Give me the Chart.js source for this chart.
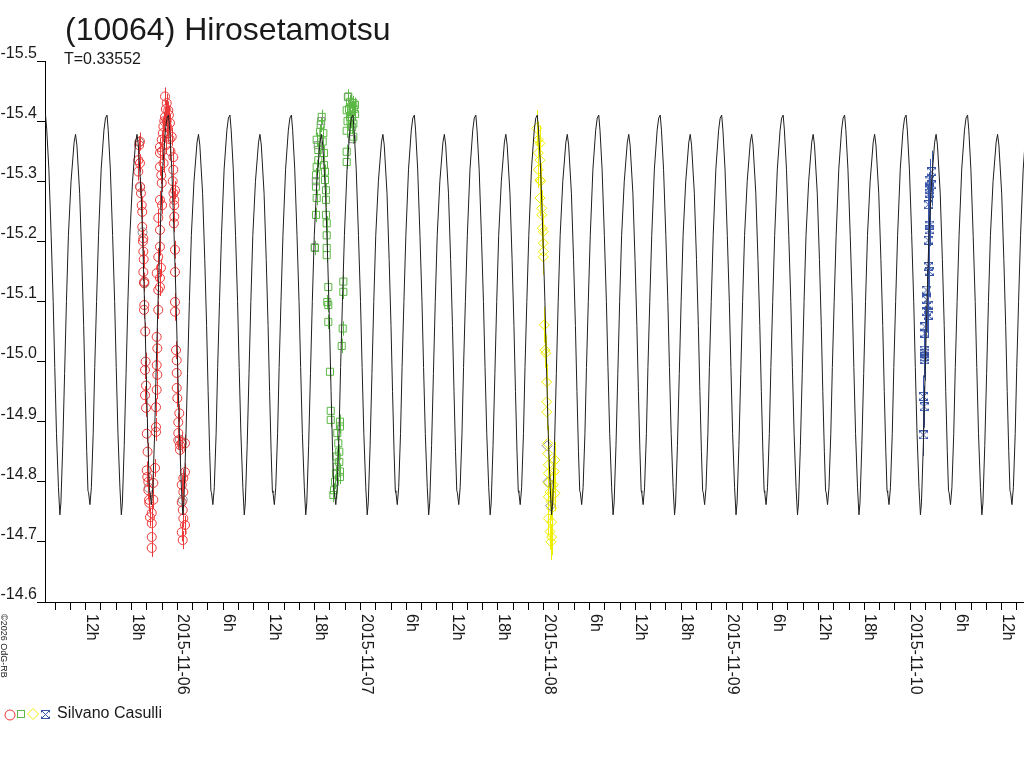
<!DOCTYPE html>
<html><head><meta charset="utf-8">
<script src="https://cdn.jsdelivr.net/npm/chart.js@4/dist/chart.umd.min.js"></script>
<style>html,body{margin:0;padding:0;background:#fff;}canvas{display:block;}</style>
</head><body>
<canvas id="c" width="1024" height="768"></canvas>
<script>
// ---------- texts ----------
const titleText = '(10064) Hirosetamotsu';
const periodText = 'T=0.33552';
const observerText = 'Silvano Casulli';
const copyrightText = '\u00A92026 OdG-RB';

// ---------- model light curve (one rotation period) ----------
const periodDays = 0.33552;
const epochHours = 38.95;          // main maximum, hours since 2015-11-05 00:00 UT
const curvePhase = [0.000,0.020,0.054,0.091,0.124,0.150,0.178,0.210,0.233,0.250,0.280,0.310,0.340,0.372,0.415,0.465,0.488,0.510,0.555,0.590,0.620,0.645,0.670,0.690,0.700,0.722,0.745,0.775,0.800,0.830,0.862,0.905,0.950,0.975];
const curveMag   = [-15.410,-15.385,-15.320,-15.210,-15.100,-14.990,-14.880,-14.790,-14.745,-14.765,-14.860,-14.980,-15.100,-15.210,-15.300,-15.365,-15.378,-15.360,-15.280,-15.170,-15.060,-14.950,-14.850,-14.785,-14.782,-14.762,-14.790,-14.880,-14.990,-15.100,-15.210,-15.320,-15.385,-15.405];

// ---------- axes ----------
const xMinHours = 6.668, xMaxHours = 134.92;   // hours since 2015-11-05 00:00 UT
const xTickStepHours = 2;
const xLabelStepHours = 6;
const dateLabels = ['2015-11-05','2015-11-06','2015-11-07','2015-11-08','2015-11-09','2015-11-10'];
const yTicks = [-15.5,-15.4,-15.3,-15.2,-15.1,-15.0,-14.9,-14.8,-14.7,-14.6];

// ---------- observations (hours since 2015-11-05 00:00 UT, magnitude) ----------
const redTime = [19.11,18.89,19.11,18.89,19.11,19.24,19.34,19.41,19.41,19.55,19.55,19.55,19.68,19.64,19.64,19.68,19.77,19.77,19.90,19.99,20.07,20.20,20.33,20.42,20.65,20.65,
 19.00,19.50,19.60,19.80,19.85,19.90,20.00,20.10,20.20,20.30,
 20.65,20.65,20.86,20.86,21.08,21.21,21.21,21.21,21.30,21.38,21.30,21.38,21.30,21.51,21.51,21.30,21.73,21.73,21.86,21.51,21.73,21.73,21.51,21.73,21.96,21.73,21.73,21.73,21.96,22.17,22.39,22.39,22.61,22.82,22.82,23.04,23.27,
 22.00,22.10,22.30,22.50,22.60,22.70,22.90,23.00,23.10,22.20,22.50,21.90,22.00,
 23.48,23.48,23.70,23.61,23.61,23.70,23.70,23.70,23.70,23.83,23.92,23.92,23.92,24.00,24.26,24.13,24.13,24.13,24.35,24.58,25.01,24.35,25.01,24.79,24.58,24.79,24.58,24.71,24.79,25.01,24.58,24.71,
 23.40,23.50,23.60,23.55];
const redMag = [-15.366,-15.335,-15.330,-15.316,-15.291,-15.280,-15.260,-15.249,-15.224,-15.205,-15.183,-15.149,-15.133,-15.131,-15.086,-15.094,-14.986,-14.944,-14.923,-14.819,-14.808,-14.786,-14.765,-14.741,-14.708,-14.690,
 -15.360,-15.200,-15.170,-15.050,-15.000,-14.960,-14.880,-14.850,-14.800,-14.770,
 -14.748,-14.731,-14.798,-14.770,-14.823,-14.883,-14.891,-14.924,-14.953,-14.978,-14.994,-15.022,-15.041,-15.086,-15.119,-15.147,-15.124,-15.139,-15.156,-15.174,-15.191,-15.219,-15.239,-15.269,-15.297,-15.324,-15.347,-15.357,-15.369,-15.391,-15.407,-15.441,-15.430,-15.418,-15.380,-15.397,-15.374,
 -15.350,-15.380,-15.400,-15.420,-15.400,-15.390,-15.410,-15.370,-15.350,-15.330,-15.360,-15.310,-15.260,
 -15.340,-15.319,-15.285,-15.269,-15.241,-15.186,-15.149,-15.099,-15.083,-15.019,-15.002,-14.981,-14.956,-14.939,-14.914,-14.899,-14.881,-14.869,-14.861,-14.864,-14.864,-14.853,-14.816,-14.806,-14.795,-14.783,-14.766,-14.753,-14.739,-14.728,-14.716,-14.703,
 -15.300,-15.280,-15.260,-15.230];
const redErr = 0.015;

const greenTime = [42.92,42.79,42.69,43.13,42.26,43.05,42.47,43.22,42.47,42.26,43.22,42.17,43.35,43.35,42.17,43.48,42.26,43.48,42.17,43.48,43.57,43.57,42.04,43.57,43.57,
 43.78,45.75,45.75,43.65,43.78,43.78,45.67,45.54,44.00,44.10,44.10,45.31,45.31,44.96,45.09,45.22,44.88,45.22,44.88,45.31,44.79,45.31,44.66,44.53,44.44,
 46.40,46.62,47.06,47.28,46.85,46.19,47.28,46.62,47.06,46.19,47.06,46.19,46.19,46.50,46.70,46.90,46.30,47.10];
const greenMag = [-15.407,-15.394,-15.382,-15.380,-15.369,-15.366,-15.352,-15.347,-15.335,-15.324,-15.327,-15.310,-15.316,-15.302,-15.291,-15.285,-15.272,-15.269,-15.244,-15.244,-15.230,-15.210,-15.189,-15.189,-15.177,
 -15.124,-15.133,-15.116,-15.099,-15.094,-15.066,-15.055,-15.026,-14.983,-14.918,-14.903,-14.900,-14.892,-14.881,-14.864,-14.850,-14.842,-14.833,-14.825,-14.817,-14.814,-14.808,-14.800,-14.786,-14.778,
 -15.441,-15.432,-15.430,-15.427,-15.422,-15.418,-15.412,-15.407,-15.396,-15.384,-15.374,-15.349,-15.332,-15.420,-15.400,-15.390,-15.400,-15.420];
const greenErr = 0.012;

const yellowTime = [71.08,71.29,71.51,71.29,71.51,71.29,71.51,71.60,71.51,71.74,71.74,71.82,71.95,71.95,71.95,71.95,72.08,72.17,72.26,72.39,72.39,72.39,72.52,72.52,73.48,72.60,73.39,72.60,72.60,73.26,72.82,73.48,72.60,72.95,73.04,72.60,73.04,72.82,73.04,72.95];
const yellowMag = [-15.388,-15.369,-15.363,-15.347,-15.335,-15.319,-15.302,-15.300,-15.272,-15.255,-15.244,-15.222,-15.216,-15.197,-15.183,-15.174,-15.061,-15.019,-15.014,-14.966,-14.933,-14.916,-14.864,-14.847,-14.836,-14.828,-14.817,-14.814,-14.798,-14.795,-14.783,-14.781,-14.775,-14.767,-14.756,-14.739,-14.733,-14.717,-14.708,-14.700];
const yellowErr = 0.03;

const blueTime = [122.83,122.60,122.83,122.60,122.51,122.38,122.60,122.51,122.38,122.38,122.51,122.17,122.17,122.38,122.17,122.38,121.95,121.95,121.82,121.95,121.82,121.95,121.73,121.82,121.73];
const blueMag = [-15.316,-15.302,-15.294,-15.286,-15.280,-15.261,-15.227,-15.219,-15.202,-15.158,-15.150,-15.119,-15.103,-15.094,-15.083,-15.077,-15.058,-15.047,-15.019,-15.014,-15.008,-15.003,-14.942,-14.925,-14.878];
const blueErr = 0.035;

const greyCircleTime = [19.00,19.15,19.45,19.70,20.25,24.35,24.70];
const greyCircleMag  = [-15.365,-15.290,-15.215,-15.130,-14.790,-14.870,-14.770];
const greySquareTime = [42.40,42.15,42.00,42.85,46.35,46.90];
const greySquareMag  = [-15.360,-15.300,-15.190,-15.400,-15.440,-15.370];
const greyDiamondTime = [72.45,72.55,72.90];
const greyDiamondMag  = [-14.860,-14.800,-14.760];

// ---------- styles ----------
const FONT = '"Liberation Sans", Arial, Helvetica, sans-serif';
const TEXT = '#1a1a1a';
const RED = '#ec3838', GREEN = '#5cb846', YELLOW = '#eeee00', BLUE = '#3a56a8', GREY = '#8a8a8a';

function pts(t, m) { const n = Math.min(t.length, m.length), a = []; for (let i = 0; i < n; i++) a.push({x: t[i], y: m[i]}); return a; }

// model curve tiled with the period
const periodHours = periodDays * 24;
const curveData = [];
for (let k = -6; k <= 16; k++) {
  for (let i = 0; i < curvePhase.length; i++) {
    const h = epochHours + (k + curvePhase[i]) * periodHours;
    if (h >= xMinHours - 4 && h <= xMaxHours + 4) curveData.push({x: h, y: curveMag[i]});
  }
}

function makeStar(color) {
  const c = document.createElement('canvas'); c.width = 9; c.height = 9;
  const g = c.getContext('2d'); g.strokeStyle = color; g.lineWidth = 1;
  g.beginPath();
  g.moveTo(0, 0.5); g.lineTo(9, 0.5);
  g.moveTo(0, 8.5); g.lineTo(9, 8.5);
  g.moveTo(0.5, 0); g.lineTo(0.5, 2.5);
  g.moveTo(8.5, 0); g.lineTo(8.5, 2.5);
  g.moveTo(0.5, 6.5); g.lineTo(0.5, 9);
  g.moveTo(8.5, 6.5); g.lineTo(8.5, 9);
  g.moveTo(1, 1); g.lineTo(8, 8);
  g.moveTo(8, 1); g.lineTo(1, 8);
  g.stroke();
  return c;
}
const blueStar = makeStar(BLUE);

const xTickHours = [];
for (let h = Math.ceil(xMinHours / xTickStepHours) * xTickStepHours; h <= xMaxHours; h += xTickStepHours) xTickHours.push(h);

const errorSeries = [
  {t: redTime, m: redMag, err: redErr, color: RED},
  {t: greenTime, m: greenMag, err: greenErr, color: GREEN},
  {t: yellowTime, m: yellowMag, err: yellowErr, color: YELLOW},
  {t: blueTime, m: blueMag, err: blueErr, color: BLUE}
];

const decor = {
  id: 'decor',
  beforeDatasetsDraw(chart) {
    const {ctx} = chart, x = chart.scales.x, y = chart.scales.y;
    ctx.save();
    ctx.lineWidth = 1;
    errorSeries.forEach(s => {
      ctx.strokeStyle = s.color;
      ctx.beginPath();
      const n = Math.min(s.t.length, s.m.length);
      for (let i = 0; i < n; i++) {
        const px = Math.round(x.getPixelForValue(s.t[i])) + 0.5;
        ctx.moveTo(px, y.getPixelForValue(s.m[i] - s.err));
        ctx.lineTo(px, y.getPixelForValue(s.m[i] + s.err));
      }
      ctx.stroke();
    });
    ctx.restore();
  },
  afterDraw(chart) {
    const {ctx} = chart, x = chart.scales.x;
    ctx.save();
    ctx.fillStyle = TEXT;
    // title
    ctx.font = '32px ' + FONT; ctx.textAlign = 'left'; ctx.textBaseline = 'alphabetic';
    ctx.fillText(titleText, 65, 40);
    ctx.font = '16px ' + FONT;
    ctx.fillText(periodText, 64, 64);
    // x labels, rotated clockwise
    ctx.font = '16px ' + FONT;
    xTickHours.forEach(h => {
      if (h % xLabelStepHours !== 0) return;
      const hod = h % 24;
      const label = hod === 0 ? dateLabels[h / 24] : hod + 'h';
      const px = Math.round(x.getPixelForValue(h));
      ctx.save();
      ctx.translate(px + 1, 614);
      ctx.rotate(Math.PI / 2);
      ctx.fillText(label, 0, 0);
      ctx.restore();
    });
    // copyright
    ctx.save();
    ctx.font = '9px ' + FONT;
    ctx.translate(1, 614);
    ctx.rotate(Math.PI / 2);
    ctx.fillText(copyrightText, 0, 0);
    ctx.restore();
    // legend
    ctx.lineWidth = 1;
    ctx.strokeStyle = RED; ctx.beginPath(); ctx.arc(10, 715, 5, 0, Math.PI * 2); ctx.stroke();
    ctx.strokeStyle = GREEN; ctx.strokeRect(17.5, 710.5, 7, 7);
    ctx.strokeStyle = YELLOW; ctx.beginPath();
    ctx.moveTo(33, 708.5); ctx.lineTo(38.5, 714); ctx.lineTo(33, 719.5); ctx.lineTo(27.5, 714); ctx.closePath(); ctx.stroke();
    ctx.drawImage(blueStar, 41, 710);
    ctx.font = '16px ' + FONT;
    ctx.fillText(observerText, 57, 718);
    ctx.restore();
  }
};

const markerBase = {showLine: false, pointBorderWidth: 1, pointBackgroundColor: 'rgba(0,0,0,0)', backgroundColor: 'rgba(0,0,0,0)'};

new Chart(document.getElementById('c'), {
  type: 'scatter',
  data: {
    datasets: [
      {label: 'model', data: curveData, showLine: true, borderColor: '#1e1e1e', borderWidth: 1, pointRadius: 0, tension: 0, fill: false},
      Object.assign({label: 'Silvano Casulli 1', data: pts(redTime, redMag), pointStyle: 'circle', pointRadius: 4.5, borderColor: RED, pointBorderColor: RED}, markerBase),
      Object.assign({label: 'grey 1', data: pts(greyCircleTime, greyCircleMag), pointStyle: 'circle', pointRadius: 4.5, borderColor: GREY, pointBorderColor: GREY}, markerBase),
      Object.assign({label: 'Silvano Casulli 2', data: pts(greenTime, greenMag), pointStyle: 'rect', pointRadius: 5, borderColor: GREEN, pointBorderColor: GREEN}, markerBase),
      Object.assign({label: 'grey 2', data: pts(greySquareTime, greySquareMag), pointStyle: 'rect', pointRadius: 5, borderColor: GREY, pointBorderColor: GREY}, markerBase),
      Object.assign({label: 'Silvano Casulli 3', data: pts(yellowTime, yellowMag), pointStyle: 'rectRot', pointRadius: 5, borderColor: YELLOW, pointBorderColor: YELLOW}, markerBase),
      Object.assign({label: 'grey 3', data: pts(greyDiamondTime, greyDiamondMag), pointStyle: 'rectRot', pointRadius: 5, borderColor: GREY, pointBorderColor: GREY}, markerBase),
      Object.assign({label: 'Silvano Casulli 4', data: pts(blueTime, blueMag), pointStyle: blueStar, pointRadius: 4.5, borderColor: BLUE, pointBorderColor: BLUE}, markerBase)
    ]
  },
  options: {
    responsive: false, animation: false, devicePixelRatio: 1,
    layout: {autoPadding: false, padding: {top: 61, left: 0, right: 0, bottom: 0}},
    plugins: {legend: {display: false}, tooltip: {enabled: false}, title: {display: false}},
    scales: {
      x: {
        type: 'linear', min: xMinHours, max: xMaxHours,
        afterBuildTicks: s => { s.ticks = xTickHours.map(v => ({value: v})); },
        afterFit: s => { s.height = 166; },
        grid: {drawOnChartArea: false, drawTicks: true, tickLength: 8, color: '#000', lineWidth: 1},
        border: {display: true, color: '#000', width: 1},
        ticks: {display: false}
      },
      y: {
        type: 'linear', reverse: true, min: -15.5, max: -14.6,
        afterBuildTicks: s => { s.ticks = yTicks.map(v => ({value: v})); },
        afterFit: s => { s.width = 45; },
        grid: {drawOnChartArea: false, drawTicks: true, tickLength: 8, color: '#000', lineWidth: 1},
        border: {display: true, color: '#000', width: 1},
        ticks: {padding: 0, labelOffset: -7.5, color: TEXT, font: {family: FONT, size: 16}, autoSkip: false, callback: v => v.toFixed(1)}
      }
    }
  },
  plugins: [decor]
});
</script>
</body></html>
